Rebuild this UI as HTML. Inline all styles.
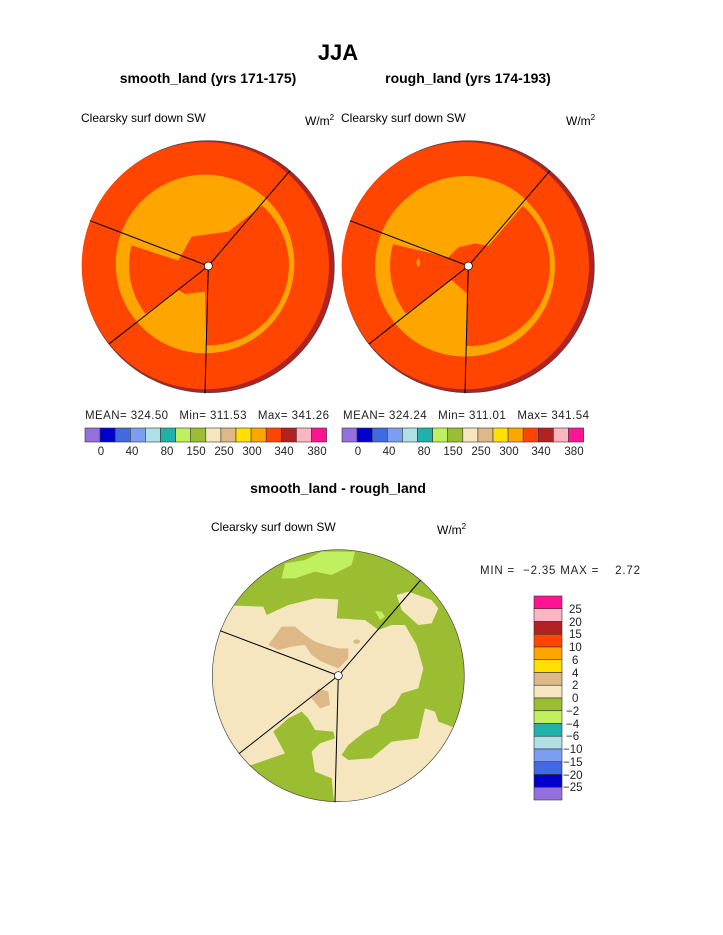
<!DOCTYPE html>
<html><head><meta charset="utf-8"><style>
body{margin:0;background:#fff;width:723px;height:935px;overflow:hidden}
svg{display:block}
text{font-family:"Liberation Sans",sans-serif}
</style></head><body>
<svg width="723" height="935" xmlns="http://www.w3.org/2000/svg">
<defs>
<clipPath id="ci"><circle cx="392" cy="374" r="266"/></clipPath>
<clipPath id="cc"><circle cx="400" cy="392" r="378"/></clipPath>
</defs>
<text x="338" y="60" font-size="22" font-weight="bold" text-anchor="middle">JJA</text>
<text x="208" y="83" font-size="14" font-weight="bold" text-anchor="middle">smooth_land (yrs 171-175)</text>
<text x="468" y="83" font-size="14" font-weight="bold" text-anchor="middle">rough_land (yrs 174-193)</text>
<text x="81" y="122" font-size="12">Clearsky surf down SW</text>
<text x="305" y="125" font-size="12">W/m<tspan font-size="8" dy="-5">2</tspan></text>
<text x="341" y="122" font-size="12">Clearsky surf down SW</text>
<text x="566" y="125" font-size="12">W/m<tspan font-size="8" dy="-5">2</tspan></text>

<!-- circle 1 -->
<g transform="translate(75,140) scale(0.3333)">
<circle cx="400" cy="380" r="378" fill="#B22222" stroke="#444" stroke-width="2"/>
<circle cx="391" cy="377" r="371" fill="#FF4500"/>
<circle cx="390" cy="372" r="268" fill="#FFA500"/>
<circle cx="402" cy="376" r="240" fill="#FF4500"/>
<g clip-path="url(#ci)">
<polygon fill="#FFA500" points="120,300 310,362 350,290 460,275 570,190 650,100 650,0 100,0"/>
<polygon fill="#FFA500" points="180,545 310,450 330,462 390,455 395,660 180,660"/>
</g>
<circle cx="402" cy="376" r="240" fill="none"/>
<g stroke="#000" stroke-width="3">
<line x1="400" y1="378" x2="645" y2="92"/><line x1="400" y1="378" x2="45" y2="242"/>
<line x1="400" y1="378" x2="102" y2="612"/><line x1="400" y1="378" x2="390" y2="760"/>
</g>
<circle cx="400" cy="378" r="12" fill="#fff" stroke="#000" stroke-width="2"/>
</g>

<!-- circle 2 -->
<g transform="translate(335,140) scale(0.3333)">
<circle cx="400" cy="380" r="378" fill="#B22222" stroke="#444" stroke-width="2"/>
<circle cx="391" cy="377" r="371" fill="#FF4500"/>
<circle cx="390" cy="380" r="270" fill="#FFA500"/>
<circle cx="405" cy="378" r="240" fill="#FF4500"/>
<g clip-path="url(#ci)">
<polygon fill="#FFA500" points="120,300 340,352 370,322 420,310 460,318 570,190 650,100 650,0 100,0"/>
<polygon fill="#FFA500" points="180,545 350,420 395,460 395,660 180,660"/>
</g>
<ellipse cx="250" cy="368" rx="5" ry="12" fill="#FFA500"/>
<g stroke="#000" stroke-width="3">
<line x1="400" y1="378" x2="645" y2="92"/><line x1="400" y1="378" x2="45" y2="242"/>
<line x1="400" y1="378" x2="102" y2="612"/><line x1="400" y1="378" x2="390" y2="760"/>
</g>
<circle cx="400" cy="378" r="12" fill="#fff" stroke="#000" stroke-width="2"/>
</g>

<!-- stats & labelbars -->
<text x="85" y="419" font-size="11.5" fill="#222" textLength="244" lengthAdjust="spacing" xml:space="preserve">MEAN= 324.50   Min= 311.53   Max= 341.26</text>
<text x="343" y="419" font-size="11.5" fill="#222" textLength="246" lengthAdjust="spacing" xml:space="preserve">MEAN= 324.24   Min= 311.01   Max= 341.54</text>
<g id="lb1" stroke="#333" stroke-width="0.6">
<rect x="85" y="428" width="15.1" height="14" fill="#9370DB"/>
<rect x="100.1" y="428" width="15.1" height="14" fill="#0000CD"/>
<rect x="115.2" y="428" width="15.1" height="14" fill="#4169E1"/>
<rect x="130.3" y="428" width="15.1" height="14" fill="#7B9EF0"/>
<rect x="145.4" y="428" width="15.1" height="14" fill="#B0E0E6"/>
<rect x="160.5" y="428" width="15.1" height="14" fill="#20B2AA"/>
<rect x="175.6" y="428" width="15.1" height="14" fill="#C0F060"/>
<rect x="190.7" y="428" width="15.1" height="14" fill="#9ABD32"/>
<rect x="205.8" y="428" width="15.1" height="14" fill="#F5E6C0"/>
<rect x="220.9" y="428" width="15.1" height="14" fill="#DEB887"/>
<rect x="236" y="428" width="15.1" height="14" fill="#FFE000"/>
<rect x="251.1" y="428" width="15.1" height="14" fill="#FFA500"/>
<rect x="266.2" y="428" width="15.1" height="14" fill="#FF4500"/>
<rect x="281.3" y="428" width="15.1" height="14" fill="#B22222"/>
<rect x="296.4" y="428" width="15.1" height="14" fill="#FFB6C1"/>
<rect x="311.5" y="428" width="15.1" height="14" fill="#FF1493"/>
</g>
<use href="#lb1" x="257"/>
<g font-size="11.5" fill="#222" text-anchor="middle">
<text x="101" y="455">0</text><text x="132" y="455">40</text><text x="167" y="455">80</text><text x="196" y="455">150</text><text x="224" y="455">250</text><text x="252" y="455">300</text><text x="284" y="455">340</text><text x="317" y="455">380</text>
<text x="358" y="455">0</text><text x="389" y="455">40</text><text x="424" y="455">80</text><text x="453" y="455">150</text><text x="481" y="455">250</text><text x="509" y="455">300</text><text x="541" y="455">340</text><text x="574" y="455">380</text>
</g>

<text x="338" y="493" font-size="14" font-weight="bold" text-anchor="middle">smooth_land - rough_land</text>
<text x="211" y="531" font-size="12">Clearsky surf down SW</text>
<text x="437" y="534" font-size="12">W/m<tspan font-size="8" dy="-5">2</tspan></text>
<text x="480" y="574" font-size="11.5" fill="#222" textLength="160" lengthAdjust="spacing" xml:space="preserve">MIN =  −2.35 MAX =    2.72</text>

<!-- circle 3 -->
<g transform="translate(205,545) scale(0.3333)">
<circle cx="400" cy="392" r="378" fill="#9ABD32"/>
<g clip-path="url(#cc)">
<polygon fill="#F5E6C0" points="90,182 175,185 185,210 250,180 330,160 400,163 395,220 480,225 520,255 560,240 600,240 635,300 655,370 640,430 590,445 570,480 530,510 520,540 480,560 430,600 410,630 430,645 500,640 560,590 640,580 660,490 690,500 700,530 740,545 800,545 800,800 390,800 380,700 330,680 320,620 345,595 390,580 385,560 330,555 310,520 290,500 250,520 205,560 240,625 140,660 0,660 0,182"/>
<polygon fill="#F5E6C0" points="575,150 610,140 680,165 700,190 680,235 640,240 590,195"/>
<polygon fill="#C0F060" points="230,100 240,55 300,45 350,20 450,20 440,60 380,90 330,80 270,100"/>
<polygon fill="#C0F060" points="510,198 530,200 540,215 525,225"/>
<polygon fill="#DEB887" points="190,300 230,245 270,245 300,270 330,290 360,300 400,310 430,310 430,340 400,370 350,350 320,330 300,300 260,305 220,315"/>
<polygon fill="#DEB887" points="320,460 340,430 370,440 375,480 345,490"/>
<ellipse cx="455" cy="290" rx="10" ry="7" fill="#DEB887"/>
</g>
<circle cx="400" cy="392" r="378" fill="none" stroke="#444" stroke-width="2"/>
<g stroke="#000" stroke-width="3">
<line x1="400" y1="392" x2="647" y2="105"/><line x1="400" y1="392" x2="45" y2="257"/>
<line x1="400" y1="392" x2="102" y2="626"/><line x1="400" y1="392" x2="390" y2="772"/>
</g>
<circle cx="400" cy="392" r="12" fill="#fff" stroke="#000" stroke-width="2"/>
</g>

<!-- vertical colorbar -->
<g stroke="#333" stroke-width="0.6">
<rect x="534" y="596" width="28" height="12.75" fill="#FF1493"/>
<rect x="534" y="608.75" width="28" height="12.75" fill="#FFB6C1"/>
<rect x="534" y="621.5" width="28" height="12.75" fill="#B22222"/>
<rect x="534" y="634.25" width="28" height="12.75" fill="#FF4500"/>
<rect x="534" y="647" width="28" height="12.75" fill="#FFA500"/>
<rect x="534" y="659.75" width="28" height="12.75" fill="#FFE000"/>
<rect x="534" y="672.5" width="28" height="12.75" fill="#DEB887"/>
<rect x="534" y="685.25" width="28" height="12.75" fill="#F5E6C0"/>
<rect x="534" y="698" width="28" height="12.75" fill="#9ABD32"/>
<rect x="534" y="710.75" width="28" height="12.75" fill="#C0F060"/>
<rect x="534" y="723.5" width="28" height="12.75" fill="#20B2AA"/>
<rect x="534" y="736.25" width="28" height="12.75" fill="#B0E0E6"/>
<rect x="534" y="749" width="28" height="12.75" fill="#7B9EF0"/>
<rect x="534" y="761.75" width="28" height="12.75" fill="#4169E1"/>
<rect x="534" y="774.5" width="28" height="12.75" fill="#0000CD"/>
<rect x="534" y="787.25" width="28" height="12.75" fill="#9370DB"/>
</g>
<g font-size="11.5" fill="#222">
<text x="569" y="613">25</text><text x="569" y="626">20</text><text x="569" y="638">15</text><text x="569" y="651">10</text>
<text x="572" y="664">6</text><text x="572" y="677">4</text><text x="572" y="689">2</text><text x="572" y="702">0</text>
<text x="566" y="715">−2</text><text x="566" y="728">−4</text><text x="566" y="740">−6</text><text x="563" y="753">−10</text>
<text x="563" y="766">−15</text><text x="563" y="779">−20</text><text x="563" y="791">−25</text>
</g>
</svg>
</body></html>
